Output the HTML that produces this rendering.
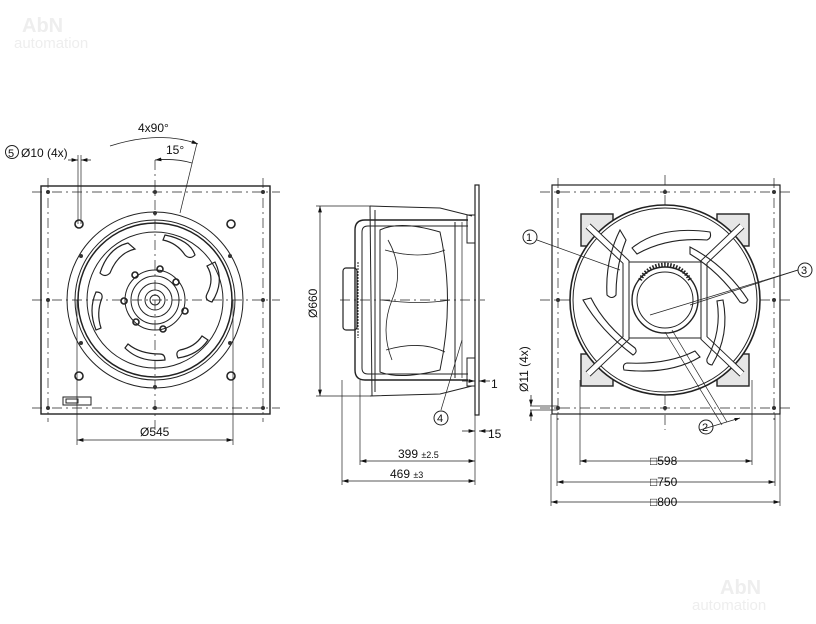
<!DOCTYPE html>
<html><head><style>
html,body{margin:0;padding:0;background:#fff}
svg{display:block}
text{font-family:"Liberation Sans",sans-serif;fill:#111}
</style></head><body>
<svg width="816" height="624" viewBox="0 0 816 624" xmlns="http://www.w3.org/2000/svg">
<defs>
<marker id="a" viewBox="0 0 10 6" refX="10" refY="3" markerWidth="8" markerHeight="5" orient="auto-start-reverse"><path d="M0,0L10,3L0,6z" fill="#111"/></marker>
</defs>
<text x="22" y="32" font-size="20" font-weight="bold" style="fill:#eeeeee">AbN</text>
<text x="14" y="48" font-size="15" style="fill:#eeeeee">automation</text>
<text x="720" y="594" font-size="20" font-weight="bold" style="fill:#eeeeee">AbN</text>
<text x="692" y="610" font-size="15" style="fill:#eeeeee">automation</text>
<g fill="none" stroke="#222" stroke-width="1">
<rect x="41" y="186" width="229" height="228" stroke-width="1.4"/>
<g stroke-dasharray="10,4,2,4" stroke-width="0.7">
<line x1="32" y1="300" x2="280" y2="300"/><line x1="155" y1="160" x2="155" y2="430"/>
<line x1="32" y1="192" x2="280" y2="192"/><line x1="32" y1="408" x2="280" y2="408"/>
<line x1="48" y1="178" x2="48" y2="422"/><line x1="263" y1="178" x2="263" y2="422"/>
</g>
<circle cx="155" cy="300" r="88"/>
<circle cx="155" cy="300" r="80"/>
<circle cx="155" cy="300" r="77" stroke-width="1.5"/>
<circle cx="155" cy="300" r="68"/>
<circle cx="155" cy="300" r="30"/><circle cx="155" cy="300" r="24"/><circle cx="155" cy="300" r="17"/><circle cx="155" cy="300" r="10"/><circle cx="155" cy="300" r="5"/>
<g fill="#333" stroke="none">
<circle cx="48" cy="192" r="2"/><circle cx="263" cy="192" r="2"/><circle cx="48" cy="408" r="2"/><circle cx="263" cy="408" r="2"/>
<circle cx="155" cy="192" r="2"/><circle cx="155" cy="408" r="2"/><circle cx="48" cy="300" r="2"/><circle cx="263" cy="300" r="2"/>
<circle cx="155" cy="213" r="2"/><circle cx="155" cy="387" r="2"/><circle cx="81" cy="256" r="2"/><circle cx="230" cy="256" r="2"/><circle cx="81" cy="343" r="2"/><circle cx="230" cy="343" r="2"/>
</g>
<g stroke-width="1.6"><circle cx="79" cy="224" r="4"/><circle cx="231" cy="224" r="4"/><circle cx="79" cy="376" r="4"/><circle cx="231" cy="376" r="4"/>
<circle cx="160" cy="269" r="3"/><circle cx="176" cy="282" r="3"/><circle cx="185" cy="311" r="3"/><circle cx="163" cy="329" r="3"/><circle cx="136" cy="322" r="3"/><circle cx="124" cy="301" r="3"/><circle cx="135" cy="275" r="3"/></g>
<g stroke-width="1.2">
<path d="M128 243 q-20 5 -28 30 q5 5 10 0 q8 -20 25 -24z"/>
<path d="M165 235 q25 5 30 20 q-5 5 -10 0 q-8 -12 -22 -15z"/>
<path d="M215 262 q10 20 -3 40 q-8 -2 -5 -8 q8 -15 0 -28z"/>
<path d="M208 340 q-10 15 -30 18 q-3 -6 2 -8 q15 -3 22 -14z"/>
<path d="M125 348 q15 15 40 12 q0 -6 -5 -6 q-20 0 -32 -10z"/>
<path d="M96 330 q-8 -20 0 -38 q7 0 6 6 q-6 15 -1 30z"/>
</g>
<rect x="63" y="397" width="28" height="8"/><rect x="66" y="399" width="12" height="4"/>
<line x1="77" y1="300" x2="77" y2="445" stroke-width="0.7"/><line x1="233" y1="300" x2="233" y2="445" stroke-width="0.7"/>
<line x1="77" y1="440" x2="233" y2="440" marker-start="url(#a)" marker-end="url(#a)" stroke-width="0.8"/>
<line x1="78" y1="155" x2="78" y2="224" stroke-width="0.7"/><line x1="81" y1="155" x2="81" y2="224" stroke-width="0.7"/>
<line x1="68" y1="160" x2="78" y2="160" marker-end="url(#a)" stroke-width="0.8"/><line x1="91" y1="160" x2="81" y2="160" marker-end="url(#a)" stroke-width="0.8"/>
<path d="M110 146 Q160 130 198 144" marker-end="url(#a)" stroke-width="0.8"/>
<path d="M155 160 Q175 158 192 163" marker-start="url(#a)" stroke-width="0.8"/>
<line x1="197" y1="143" x2="180" y2="213" stroke-width="0.7"/>
<circle cx="12" cy="152" r="6.5"/>
</g>
<text x="8" y="157" font-size="11">5</text>
<text x="21" y="157" font-size="12">Ø10 (4x)</text>
<text x="138" y="132" font-size="12">4x90°</text>
<text x="166" y="154" font-size="12">15°</text>
<text x="140" y="436" font-size="12">Ø545</text>

<g fill="none" stroke="#222" stroke-width="1">
<rect x="475" y="185" width="4" height="230" stroke-width="1.2"/>
<rect x="467" y="215" width="8" height="28"/><rect x="467" y="358" width="8" height="28"/>
<line x1="340" y1="300" x2="485" y2="300" stroke-dasharray="10,4,2,4" stroke-width="0.7"/>
<path d="M468 220 H365 q-10 0 -10 10 V370 q0 10 10 10 H468" stroke-width="1.4"/>
<path d="M468 226 H368 q-6 0 -6 6 V368 q0 6 6 6 H468"/>
<path d="M370 206 L440 208 L472 216 M370 396 L440 394 L472 386"/>
<line x1="370" y1="206" x2="372" y2="396"/><line x1="375" y1="210" x2="375" y2="392"/>
<path d="M380 230 Q400 220 440 232 Q455 300 440 370 Q400 380 380 372z"/>
<path d="M385 250 Q420 260 445 250 M382 300 Q420 305 450 300 M386 350 Q420 340 445 352" stroke-width="0.8"/>
<path d="M388 240 Q405 270 392 300 Q380 330 392 360" stroke-width="0.8"/>
<line x1="455" y1="222" x2="455" y2="378"/><line x1="462" y1="222" x2="462" y2="378" stroke-width="0.7"/>
<rect x="343" y="268" width="14" height="62" rx="3" stroke-width="1.2"/>
<line x1="358" y1="262" x2="358" y2="338" stroke-dasharray="2,1"/>
<line x1="316" y1="206" x2="370" y2="206" stroke-width="0.7"/><line x1="316" y1="396" x2="370" y2="396" stroke-width="0.7"/>
<line x1="320" y1="206" x2="320" y2="396" marker-start="url(#a)" marker-end="url(#a)" stroke-width="0.8"/>
<line x1="360" y1="380" x2="360" y2="465" stroke-width="0.7"/><line x1="342" y1="380" x2="342" y2="485" stroke-width="0.7"/>
<line x1="475" y1="415" x2="475" y2="485" stroke-width="0.7"/>
<line x1="360" y1="461" x2="475" y2="461" marker-start="url(#a)" marker-end="url(#a)" stroke-width="0.8"/>
<line x1="342" y1="481" x2="475" y2="481" marker-start="url(#a)" marker-end="url(#a)" stroke-width="0.8"/>
<line x1="462" y1="381" x2="475" y2="381" marker-end="url(#a)" stroke-width="0.8"/><line x1="490" y1="381" x2="479" y2="381" marker-end="url(#a)" stroke-width="0.8"/>
<line x1="462" y1="431" x2="475" y2="431" marker-end="url(#a)" stroke-width="0.8"/><line x1="492" y1="431" x2="479" y2="431" marker-end="url(#a)" stroke-width="0.8"/>
<line x1="441" y1="410" x2="462" y2="340" stroke-width="0.7"/>
<circle cx="441" cy="418" r="7"/>
</g>
<text transform="translate(317,318) rotate(-90)" font-size="12">Ø660</text>
<text x="491" y="388" font-size="12">1</text>
<text x="488" y="438" font-size="12">15</text>
<text x="437" y="422" font-size="11">4</text>
<text x="398" y="458" font-size="12">399 <tspan font-size="9">±2.5</tspan></text>
<text x="390" y="478" font-size="12">469 <tspan font-size="9">±3</tspan></text>

<g fill="none" stroke="#222" stroke-width="1">
<rect x="552" y="185" width="228" height="229" stroke-width="1.2"/>
<g stroke-dasharray="10,4,2,4" stroke-width="0.7">
<line x1="540" y1="300" x2="790" y2="300"/><line x1="665" y1="175" x2="665" y2="430"/>
<line x1="540" y1="192" x2="790" y2="192"/><line x1="540" y1="408" x2="790" y2="408"/>
<line x1="558" y1="178" x2="558" y2="420"/><line x1="774" y1="178" x2="774" y2="420"/>
</g>
<g fill="#333" stroke="none"><circle cx="558" cy="192" r="2"/><circle cx="774" cy="192" r="2"/><circle cx="558" cy="408" r="2"/><circle cx="774" cy="408" r="2"/><circle cx="665" cy="192" r="2"/><circle cx="665" cy="408" r="2"/><circle cx="558" cy="300" r="2"/><circle cx="774" cy="300" r="2"/></g>
<g fill="#e6e6e6" stroke="#222" stroke-width="1.4"><rect x="581" y="214" width="32" height="32"/><rect x="717" y="214" width="32" height="32"/><rect x="581" y="354" width="32" height="32"/><rect x="717" y="354" width="32" height="32"/></g>
<circle cx="665" cy="300" r="95" stroke-width="1.6" fill="#fff"/>
<circle cx="665" cy="300" r="92"/>
<rect x="627" y="262" width="76" height="76"/>
<circle cx="665" cy="300" r="33" stroke-width="1.4"/><circle cx="665" cy="300" r="28"/>
<path d="M588 226 L626 262 V338 L588 374 M742 226 L704 262 V338 L742 374" stroke-width="7" stroke="#222"/>
<path d="M588 226 L626 262 V338 L588 374 M742 226 L704 262 V338 L742 374" stroke-width="5" stroke="#fff"/>
<g stroke-width="1.1">
<path d="M620 230 Q605 260 607 295 q5 5 9 0 q0 -30 10 -55z"/>
<path d="M632 248 Q660 225 710 232 q2 6 -3 8 q-40 -3 -70 14z"/>
<path d="M690 247 Q725 265 748 300 q-3 5 -8 2 q-20 -30 -50 -48z"/>
<path d="M723 300 Q730 335 712 365 q-6 -1 -5 -6 q15 -28 10 -58z"/>
<path d="M700 357 Q670 375 624 370 q-2 -6 3 -7 q40 2 68 -12z"/>
<path d="M583 300 Q600 330 633 355 q5 -3 2 -7 q-30 -22 -44 -50z"/>
</g>
<path d="M640 280 A28 28 0 0 1 690 280" stroke-width="4" stroke-dasharray="1.5,1.5"/>
<line x1="580" y1="380" x2="580" y2="465" stroke-width="0.7"/><line x1="752" y1="380" x2="752" y2="465" stroke-width="0.7"/>
<line x1="557" y1="414" x2="557" y2="486" stroke-width="0.7"/><line x1="775" y1="414" x2="775" y2="486" stroke-width="0.7"/>
<line x1="551" y1="414" x2="551" y2="506" stroke-width="0.7"/><line x1="780" y1="414" x2="780" y2="506" stroke-width="0.7"/>
<line x1="580" y1="461" x2="752" y2="461" marker-start="url(#a)" marker-end="url(#a)" stroke-width="0.8"/>
<line x1="557" y1="482" x2="775" y2="482" marker-start="url(#a)" marker-end="url(#a)" stroke-width="0.8"/>
<line x1="551" y1="502" x2="780" y2="502" marker-start="url(#a)" marker-end="url(#a)" stroke-width="0.8"/>
<line x1="530" y1="406" x2="558" y2="406" stroke-width="0.7"/><line x1="530" y1="410" x2="558" y2="410" stroke-width="0.7"/>
<line x1="531" y1="395" x2="531" y2="406" marker-end="url(#a)" stroke-width="0.8"/><line x1="531" y1="421" x2="531" y2="410" marker-end="url(#a)" stroke-width="0.8"/>
<line x1="537" y1="240" x2="620" y2="270" stroke-width="0.7"/><circle cx="530" cy="237" r="7"/>
<line x1="798" y1="270" x2="650" y2="315" stroke-width="0.7"/><line x1="798" y1="270" x2="690" y2="305" stroke-width="0.7"/><circle cx="805" cy="270" r="7"/>
<line x1="665" y1="332" x2="722" y2="425" stroke-width="0.7"/><line x1="672" y1="330" x2="727" y2="422" stroke-width="0.7"/>
<line x1="700" y1="430" x2="740" y2="418" marker-end="url(#a)" stroke-width="0.7"/>
<circle cx="706" cy="427" r="7"/>
</g>
<text x="526" y="241" font-size="11">1</text>
<text x="801" y="274" font-size="11">3</text>
<text x="702" y="431" font-size="11">2</text>
<text transform="translate(528,392) rotate(-90)" font-size="12">Ø11 (4x)</text>
<g font-size="12"><text x="650" y="465">□598</text><text x="650" y="486">□750</text><text x="650" y="506">□800</text></g>
</svg>
</body></html>
